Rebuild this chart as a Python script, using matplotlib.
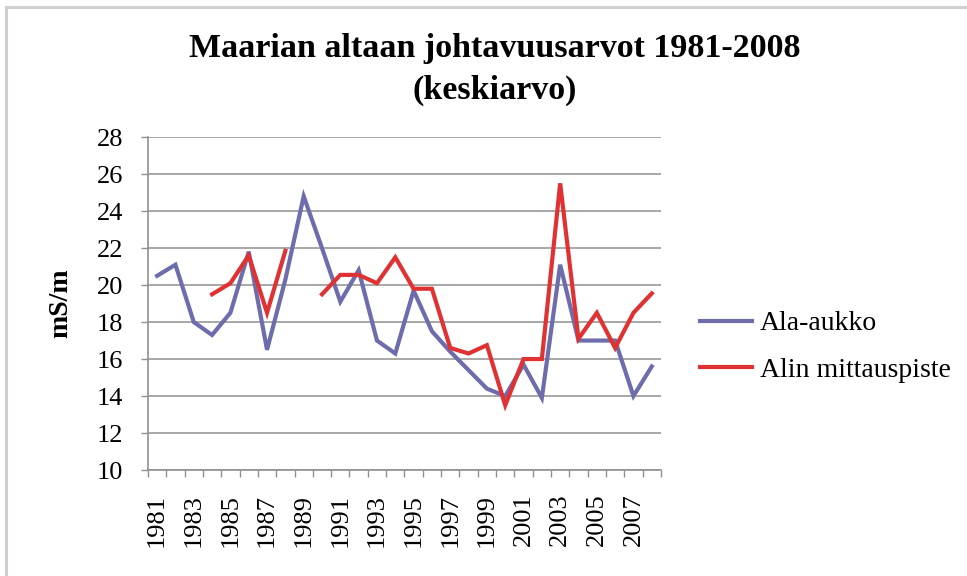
import numpy as np
import matplotlib
matplotlib.use("Agg")
import matplotlib.pyplot as plt
from matplotlib.patches import Rectangle

plt.rcParams['font.family'] = ['Liberation Serif', 'DejaVu Serif']

# years 1981-2008
years = list(range(1981, 2009))

# Ala-aukko (mS/m)
ala_aukko = [20.5, 21.1, 18.0, 17.3, 18.5, 21.8, 16.5, 20.3, 24.8, 22.0,
             19.1, 20.8, 17.0, 16.3, 19.7, 17.5, 16.4, 15.4, 14.4, 14.0,
             15.7, 13.9, 21.1, 17.0, 17.0, 17.0, 14.0, 15.6]

# Alin mittauspiste (mS/m), gaps where no measurement
alin = [np.nan, np.nan, np.nan, 19.5, 20.1, 21.6, 18.5, 21.85, np.nan, 19.5,
        20.55, 20.55, 20.1, 21.5, 19.8, 19.8, 16.6, 16.3, 16.75, 13.5,
        16.0, 16.0, 25.5, 17.1, 18.5, 16.6, 18.5, 19.55]

y_ticks = list(range(10, 29, 2))

fig = plt.figure(figsize=(9.67, 5.76), dpi=100)
ax = fig.add_axes([0.153, 0.184, 0.5305, 0.578])

# outer chart border (left/top visible)
fig.patches.append(Rectangle((6 / 967, -0.1), 1.2, 1.1 - 7 / 576,
                             transform=fig.transFigure, fill=False,
                             edgecolor='#d0d0d0', linewidth=2.2))

x = np.arange(len(years))
ax.plot(x, ala_aukko, color='#6D6DAD', linewidth=3.0, label='Ala-aukko',
        solid_joinstyle='miter')
ax.plot(x, alin, color='#E03232', linewidth=3.0, label='Alin mittauspiste',
        solid_joinstyle='miter')

ax.set_xlim(-0.5, len(years) - 0.5)
ax.set_ylim(10, 28)
ax.set_yticks(y_ticks)
ax.yaxis.grid(True, color='#a0a0a0', linewidth=1.3)
ax.set_axisbelow(True)

ax.set_xticks(x[::2])
ax.set_xticklabels([str(y) for y in years[::2]], rotation=90)
ax.set_xticks(np.arange(-0.5, len(years), 1), minor=True)
ax.tick_params(axis='x', which='major', length=0, pad=17, labelsize=19)
ax.tick_params(axis='x', which='minor', length=5, color='#909090', width=1)
ax.tick_params(axis='y', length=5, color='#909090', width=1, labelsize=19,
               pad=13)

for s in ['top', 'right']:
    ax.spines[s].set_visible(False)
for s in ['left', 'bottom']:
    ax.spines[s].set_color('#909090')
    ax.spines[s].set_linewidth(1.2)

ax.set_ylabel('mS/m', fontsize=20, fontweight='bold')
ax.yaxis.set_label_coords(-0.146, 0.5)

fig.text(0.512, 0.915, 'Maarian altaan johtavuusarvot 1981-2008',
         ha='center', va='center', fontsize=24.5, fontweight='bold')
fig.text(0.512, 0.843, '(keskiarvo)', ha='center', va='center',
         fontsize=24.5, fontweight='bold')

ax.legend(loc='center left', bbox_to_anchor=(1.076, 0.37), frameon=False,
          fontsize=20, handlelength=1.87, handletextpad=0.3,
          labelspacing=0.75, borderpad=0, borderaxespad=0)

fig.savefig('out.png', dpi=100, facecolor='white')
